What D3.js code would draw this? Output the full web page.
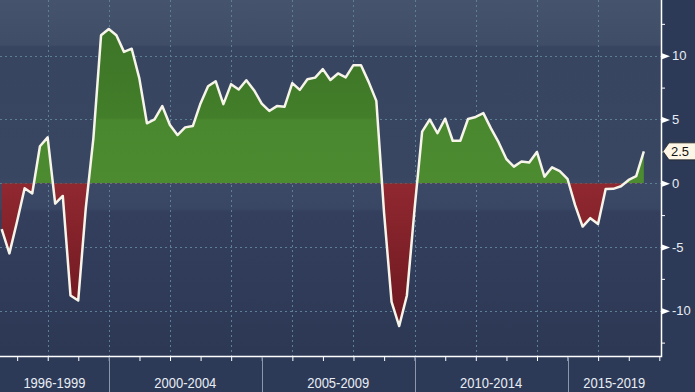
<!DOCTYPE html>
<html>
<head>
<meta charset="utf-8">
<script src="https://cdnjs.cloudflare.com/ajax/libs/d3/7.8.5/d3.min.js"></script>
<style>
  html, body { margin: 0; padding: 0; background: #2d3a57; overflow: hidden; }
  svg { display: block; }
  text { font-family: "Liberation Sans", Arial, sans-serif; }
</style>
</head>
<body>
<svg id="chart"></svg>
<script>
// quarterly series, year-on-year %
var quarters = [
  "1996Q2", "1996Q3", "1996Q4",
  "1997Q1", "1997Q2", "1997Q3", "1997Q4",
  "1998Q1", "1998Q2", "1998Q3", "1998Q4",
  "1999Q1", "1999Q2", "1999Q3", "1999Q4",
  "2000Q1", "2000Q2", "2000Q3", "2000Q4",
  "2001Q1", "2001Q2", "2001Q3", "2001Q4",
  "2002Q1", "2002Q2", "2002Q3", "2002Q4",
  "2003Q1", "2003Q2", "2003Q3", "2003Q4",
  "2004Q1", "2004Q2", "2004Q3", "2004Q4",
  "2005Q1", "2005Q2", "2005Q3", "2005Q4",
  "2006Q1", "2006Q2", "2006Q3", "2006Q4",
  "2007Q1", "2007Q2", "2007Q3", "2007Q4",
  "2008Q1", "2008Q2", "2008Q3", "2008Q4",
  "2009Q1", "2009Q2", "2009Q3", "2009Q4",
  "2010Q1", "2010Q2", "2010Q3", "2010Q4",
  "2011Q1", "2011Q2", "2011Q3", "2011Q4",
  "2012Q1", "2012Q2", "2012Q3", "2012Q4",
  "2013Q1", "2013Q2", "2013Q3", "2013Q4",
  "2014Q1", "2014Q2", "2014Q3", "2014Q4",
  "2015Q1", "2015Q2", "2015Q3", "2015Q4",
  "2016Q1", "2016Q2", "2016Q3", "2016Q4",
  "2017Q1", "2017Q2"
];
var growth = [
  -3.6, -5.5, -3.0,
  -0.4, -0.8, 2.9, 3.6,
  -1.6, -1.0, -8.8, -9.2,
  -2.0, 3.5, 11.6, 12.1,
  11.6, 10.3, 10.55, 8.2,
  4.7, 5.0, 6.05, 4.56,
  3.78, 4.38, 4.48, 6.26,
  7.6, 8.0, 6.2, 7.77,
  7.35, 8.08, 7.3, 6.25,
  5.67, 6.05, 6.0, 7.85,
  7.32, 8.15, 8.28, 8.95,
  8.1, 8.61, 8.3, 9.26,
  9.26, 7.95, 6.46, -2.3,
  -9.3, -11.2, -8.8, -2.0,
  4.05, 5.0, 3.92, 5.06,
  3.33, 3.33, 5.04, 5.2,
  5.5, 4.3, 3.2, 1.9,
  1.3, 1.7, 1.62, 2.45,
  0.52, 1.25, 0.95, 0.35,
  -1.7, -3.4, -2.74, -3.2,
  -0.46, -0.44, -0.24, 0.26,
  0.55, 2.5
];
var periodLabels = ["1996-1999", "2000-2004", "2005-2009", "2010-2014", "2015-2019"];
var periodStarts = [1996, 2000, 2005, 2010, 2015];
var periodEnds   = [2000, 2005, 2010, 2015, 2020];
var majorTicks = [-10, -5, 0, 5, 10];
var minorTicks = [-12.5, -7.5, -2.5, 2.5, 7.5, 12.5];
var lastLabel = "2.5";

var W = 695, H = 392;
var plotW = 661, plotH = 356;

// quarter end date
function qDate(s) {
  var yr = +s.slice(0, 4), q = +s.slice(5);
  return new Date(yr, q * 3, 0);
}
var data = quarters.map(function (q, i) { return { date: qDate(q), v: growth[i] }; });

var x = d3.scaleTime()
  .domain([new Date(1996, 5, 10), new Date(2018, 0, 21)])
  .range([0, plotW]);
var y = d3.scaleLinear().domain([-13.55, 14.37]).range([plotH, 0]);

var svg = d3.select('#chart').attr("width", W).attr("height", H);
var defs = svg.append("defs");

// background bands
var bg = defs.append("linearGradient").attr("id", "bg")
  .attr("gradientUnits", "userSpaceOnUse")
  .attr("x1", 0).attr("y1", 0).attr("x2", 0).attr("y2", plotH);
[[0, "#45536c"], [0.125, "#404d67"], [0.132, "#384561"], [0.5, "#394662"],
 [0.515, "#3c4966"], [0.585, "#3a4764"], [0.595, "#333f5c"], [0.76, "#303c59"], [1, "#2c3854"]]
  .forEach(function (s) {
    bg.append("stop").attr("offset", s[0]).attr("stop-color", s[1]);
  });

var gGreen = defs.append("linearGradient").attr("id", "gGreen")
  .attr("gradientUnits", "userSpaceOnUse")
  .attr("x1", 0).attr("y1", y(12)).attr("x2", 0).attr("y2", y(0));
gGreen.append("stop").attr("offset", 0).attr("stop-color", "#3c7527");
gGreen.append("stop").attr("offset", 0.57).attr("stop-color", "#437e2a");
gGreen.append("stop").attr("offset", 0.59).attr("stop-color", "#4a882f");
gGreen.append("stop").attr("offset", 1).attr("stop-color", "#4c8b30");

var gRed = defs.append("linearGradient").attr("id", "gRed")
  .attr("gradientUnits", "userSpaceOnUse")
  .attr("x1", 0).attr("y1", y(0)).attr("x2", 0).attr("y2", y(-11));
gRed.append("stop").attr("offset", 0).attr("stop-color", "#902830");
gRed.append("stop").attr("offset", 1).attr("stop-color", "#6e1820");

defs.append("clipPath").attr("id", "clipUp").append("rect")
  .attr("x", 0).attr("y", 0).attr("width", plotW).attr("height", y(0));
defs.append("clipPath").attr("id", "clipDown").append("rect")
  .attr("x", 0).attr("y", y(0)).attr("width", plotW).attr("height", plotH - y(0));
defs.append("clipPath").attr("id", "clipPlot").append("rect")
  .attr("x", 0).attr("y", 0).attr("width", plotW).attr("height", plotH);

svg.append("rect").attr("x", 0).attr("y", 0).attr("width", W).attr("height", H).attr("fill", "#2d3a57");
svg.append("rect").attr("x", 0).attr("y", 0).attr("width", plotW).attr("height", plotH).attr("fill", "url(#bg)");

// grid
var grid = svg.append("g").attr("stroke", "#5d7f96").attr("stroke-width", 1)
  .attr("stroke-dasharray", "2,3").attr("fill", "none");
grid.selectAll("line.h").data(majorTicks).enter().append("line")
  .attr("x1", 0).attr("x2", plotW)
  .attr("y1", function (d) { return Math.round(y(d)) + 0.5; })
  .attr("y2", function (d) { return Math.round(y(d)) + 0.5; });
var gridYears = x.ticks(d3.timeYear.every(2)).filter(function (d) { return d.getFullYear() < 2018; });
grid.selectAll("line.v").data(gridYears).enter().append("line")
  .attr("y1", 0).attr("y2", plotH)
  .attr("x1", function (d) { return Math.round(x(d)) + 0.5; })
  .attr("x2", function (d) { return Math.round(x(d)) + 0.5; });

// areas
var area = d3.area()
  .x(function (d) { return x(d.date); })
  .y0(y(0))
  .y1(function (d) { return y(d.v); });
svg.append("path").datum(data).attr("d", area)
  .attr("fill", "url(#gGreen)").attr("clip-path", "url(#clipUp)");
svg.append("path").datum(data).attr("d", area)
  .attr("fill", "url(#gRed)").attr("clip-path", "url(#clipDown)");

var line = d3.line()
  .x(function (d) { return x(d.date); })
  .y(function (d) { return y(d.v); });
svg.append("path").datum(data).attr("d", line)
  .attr("fill", "none").attr("stroke", "#f7f4ea").attr("stroke-width", 2.5)
  .attr("stroke-linejoin", "round").attr("clip-path", "url(#clipPlot)");

// right axis
var yMinor = svg.append("g").attr("transform", "translate(" + plotW + ",0)")
  .call(d3.axisRight(y).tickValues(minorTicks).tickSize(4).tickFormat(""));
yMinor.select(".domain").remove();
yMinor.selectAll("line").attr("stroke", "#ffffff");

var yMajor = svg.append("g").attr("transform", "translate(" + plotW + ",0)")
  .call(d3.axisRight(y).tickValues(majorTicks).tickSize(0).tickPadding(11)
    .tickFormat(function (d) { return d < 0 ? "-" + Math.abs(d) : d; }));
yMajor.select(".domain").remove();
yMajor.selectAll("text").attr("fill", "#e8edf5").attr("font-size", 13)
  .attr("font-family", "Liberation Sans, Arial, sans-serif");
yMajor.selectAll(".tick").append("path")
  .attr("d", "M1,-3L9,0L1,3Z").attr("fill", "#ffffff");

// bottom axis
var xAxis = svg.append("g").attr("transform", "translate(0," + plotH + ")")
  .call(d3.axisBottom(x).ticks(d3.timeYear.every(1)).tickSize(5).tickFormat(""));
xAxis.select(".domain").remove();
xAxis.selectAll("line").attr("stroke", "#ffffff");

// frame
svg.append("path")
  .attr("d", "M0," + (plotH + 0.5) + "H" + (plotW + 0.5) + "V0")
  .attr("fill", "none").attr("stroke", "#ffffff").attr("stroke-width", 1.5);

// period separators and labels
svg.selectAll("line.sep").data(periodStarts.slice(1)).enter().append("line")
  .attr("x1", function (d) { return Math.round(x(new Date(d, 0, 1))) + 0.5; })
  .attr("x2", function (d) { return Math.round(x(new Date(d, 0, 1))) + 0.5; })
  .attr("y1", plotH + 1).attr("y2", H)
  .attr("stroke", "#8a97ad").attr("stroke-width", 1);

svg.selectAll("text.period").data(periodLabels).enter().append("text")
  .attr("x", function (d, i) {
    var a = Math.max(0, x(new Date(periodStarts[i], 0, 1)));
    var b = Math.min(plotW, x(new Date(periodEnds[i], 0, 1)));
    return (a + b) / 2;
  })
  .attr("y", 388)
  .attr("text-anchor", "middle")
  .attr("font-size", 14)
  .attr("textLength", 62)
  .attr("lengthAdjust", "spacingAndGlyphs")
  .attr("fill", "#e8edf5")
  .text(function (d) { return d; });

// last value tag
var last = data[data.length - 1];
var tag = svg.append("g").attr("transform", "translate(" + (plotW + 2) + "," + y(last.v) + ")");
tag.append("path")
  .attr("d", "M0,0L6,-8.5H40V8.5H6Z")
  .attr("fill", "#fdf6e6").attr("stroke", "#222").attr("stroke-width", 0.8);
tag.append("text").attr("x", 8).attr("y", 4.5)
  .attr("font-size", 13).attr("fill", "#111").text(lastLabel);
</script>
</body>
</html>
